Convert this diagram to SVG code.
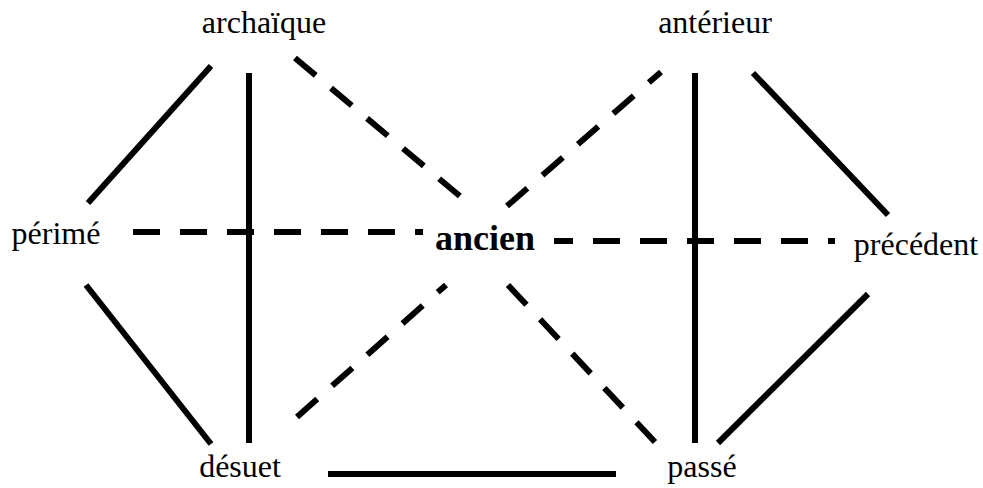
<svg xmlns="http://www.w3.org/2000/svg" width="983" height="488" viewBox="0 0 983 488">
<style>
.t{font-family:"Liberation Serif","Times New Roman",serif;font-size:32px;fill:#000;text-anchor:middle}
.b{font-weight:bold;font-size:36px}
.s{stroke:#000;stroke-width:6;fill:none}
.d{stroke:#000;stroke-width:6;fill:none;stroke-dasharray:27 20}
</style>
<rect width="983" height="488" fill="#fff"/>
<g id="connectors">
<line class="s" x1="211" y1="66" x2="88" y2="203"/>
<line class="s" x1="249" y1="73" x2="249" y2="443"/>
<line class="s" x1="86" y1="285" x2="211" y2="444"/>
<line class="s" x1="328" y1="474" x2="616" y2="474"/>
<line class="s" x1="695" y1="73" x2="695" y2="443"/>
<line class="s" x1="753" y1="73" x2="888" y2="215"/>
<line class="s" x1="868" y1="294" x2="718" y2="443"/>
<line class="d" x1="295" y1="58" x2="461" y2="197"/>
<line class="d" x1="507" y1="206" x2="661" y2="72"/>
<line class="d" x1="133" y1="232" x2="423" y2="232"/>
<line class="d" x1="554" y1="241" x2="835" y2="241" stroke-dashoffset="8"/>
<line class="d" x1="297" y1="417" x2="446" y2="285"/>
<line class="d" x1="508" y1="285" x2="655" y2="442"/>
</g>
<g id="ancien"><text class="t b" x="485" y="250">ancien</text></g>
<g id="archaique"><text class="t" x="264" y="33">archaïque</text></g>
<g id="anterieur"><text class="t" x="715" y="33">antérieur</text></g>
<g id="perime"><text class="t" x="56" y="244">périmé</text></g>
<g id="precedent"><text class="t" x="916" y="255">précédent</text></g>
<g id="desuet"><text class="t" x="240" y="477">désuet</text></g>
<g id="passe"><text class="t" x="702" y="477">passé</text></g>
</svg>
